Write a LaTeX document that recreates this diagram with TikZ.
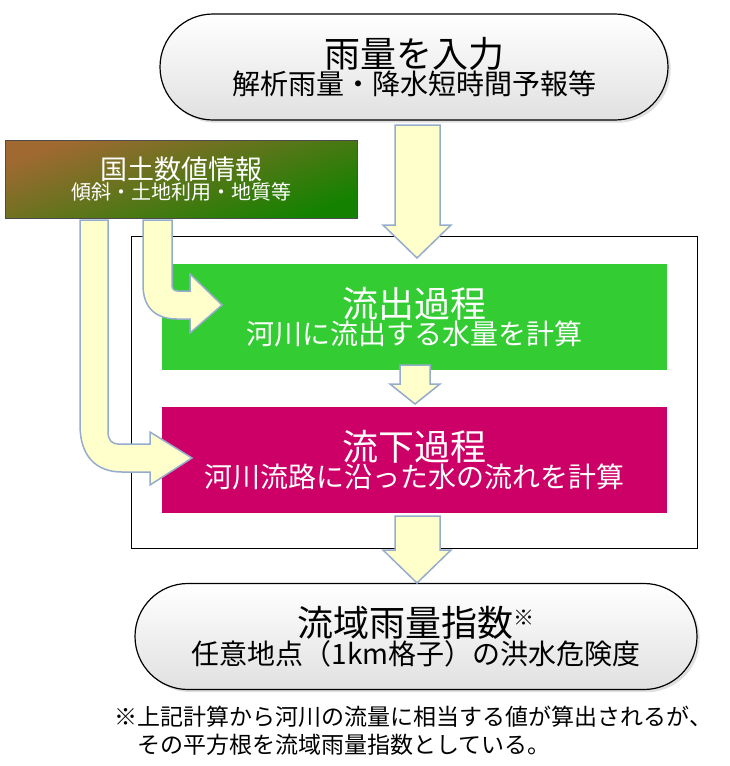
\documentclass[tikz,border=0pt]{standalone}
\usepackage{fontspec}
\setmainfont{Noto Sans CJK JP}
\usetikzlibrary{shadows}
\definecolor{arrowfill}{RGB}{255,255,204}
\definecolor{arrowline}{RGB}{150,172,205}
\definecolor{runoff}{RGB}{51,204,51}
\definecolor{flow}{RGB}{204,0,102}
\definecolor{soil}{RGB}{160,105,50}
\definecolor{leaf}{RGB}{20,130,0}
\newcommand{\bigtxt}{\fontsize{36}{40}\selectfont}
\newcommand{\smalltxt}{\fontsize{28}{32}\selectfont}
\tikzset{
  pill/.style={draw=black,line width=1.2pt,rounded corners=53pt,minimum height=106pt,
    top color=white,bottom color=black!12,align=center,drop shadow={opacity=0.25}},
  stage/.style={minimum width=505pt,minimum height=106pt,align=center,text=white},
  blockarrow/.style={fill=arrowfill,draw=arrowline,line width=1.5pt},
}
\begin{document}
\begin{tikzpicture}[x=1pt,y=-1pt]
  \useasboundingbox (0,0) rectangle (730,766);
  % frame
  \draw[line width=1pt] (131,236) rectangle (697,548);
  % nodes
  \node[pill,minimum width=508pt] (rain) at (414,67)
    {\bigtxt 雨量を入力\\[0pt]\smalltxt 解析雨量・降水短時間予報等};
  \node[stage,fill=runoff] (out) at (414.5,317)
    {\bigtxt 流出過程\\[0pt]\smalltxt 河川に流出する水量を計算};
  \node[stage,fill=flow] (down) at (414.5,460)
    {\bigtxt 流下過程\\[0pt]\smalltxt 河川流路に沿った水の流れを計算};
  \node[pill,minimum width=562pt] (index) at (416,636.5)
    {\bigtxt 流域雨量指数\raisebox{11pt}{\fontsize{21}{24}\selectfont ※}\\[0pt]\smalltxt 任意地点（1km格子）の洪水危険度};
  \node[draw=black!70,line width=1pt,minimum width=352pt,minimum height=78pt,
    top color=soil,bottom color=leaf,shading angle=20,text=white,align=center] (info) at (181,179)
    {\fontsize{27}{30}\selectfont 国土数値情報\\[0pt]\fontsize{20}{23}\selectfont 傾斜・土地利用・地質等};
  % straight arrows
  \filldraw[blockarrow] (395,125) -- (440,125) -- (440,225) -- (451,225) -- (417,258)
    -- (383,225) -- (395,225) -- cycle;
  \filldraw[blockarrow] (400,365) -- (430,365) -- (430,384) -- (440,384) -- (415,404)
    -- (390,384) -- (400,384) -- cycle;
  \filldraw[blockarrow] (395,516) -- (440,516) -- (440,550) -- (451,550) -- (417,583)
    -- (383,550) -- (395,550) -- cycle;
  % bent arrows
  \filldraw[blockarrow] (143,220) -- (143,285) .. controls (143,308) and (156,319) .. (177,319)
    -- (190,319) -- (190,333) -- (222,305) -- (190,274) -- (190,291) -- (178,291)
    .. controls (174,291) and (172,289) .. (172,285) -- (172,220) -- cycle;
  \filldraw[blockarrow] (80,220) -- (80,425) .. controls (80,455) and (95,472) .. (122,472)
    -- (150,472) -- (150,485) -- (192,458) -- (150,432) -- (150,444) -- (118,444)
    .. controls (112,444) and (108,440) .. (108,432) -- (108,220) -- cycle;
  % note
  \node[anchor=north west,align=left,font=\fontsize{23}{28}\selectfont] (note) at (111,702)
    {※上記計算から河川の流量に相当する値が算出されるが、\\\hspace{23pt}その平方根を流域雨量指数としている。};
\end{tikzpicture}
\end{document}
